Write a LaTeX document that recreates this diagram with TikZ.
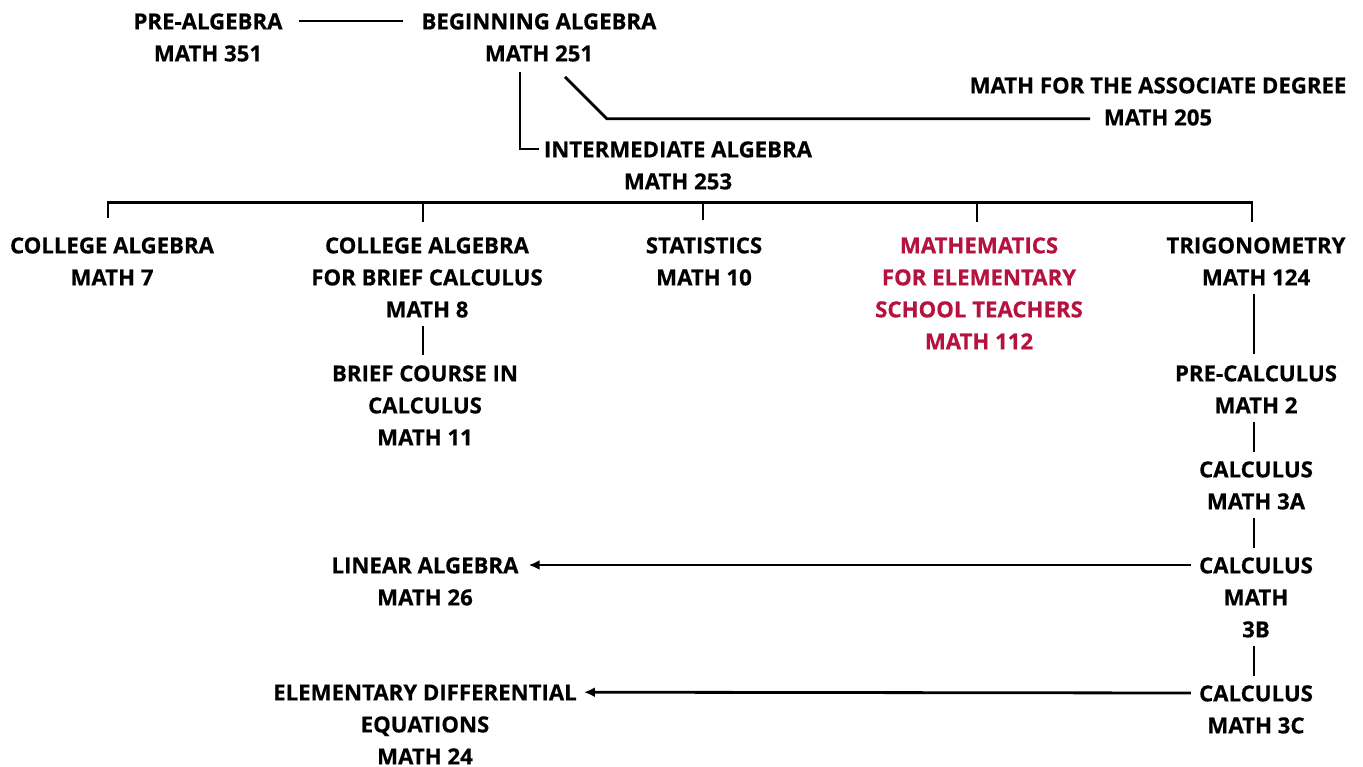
\documentclass[tikz,border=0pt]{standalone}
\usepackage{fontspec}
\newfontfamily\coursefont{Open Sans}[BoldFeatures={FakeBold=0.5}]
\usetikzlibrary{arrows.meta}
\definecolor{elemred}{RGB}{181,18,62}
\def\T{7.9}
\tikzset{
  course/.style={font=\coursefont\bfseries\fontsize{22.2}{32}\selectfont, align=center, inner sep=0pt, anchor=north, text=black},
  redcourse/.style={course, text=elemred},
  link/.style={draw=black, line width=2.8pt},
  arrowlink/.style={link, -{Latex[length=11pt,width=10pt]}}
}
\begin{document}
\begin{tikzpicture}[x=1pt,y=-1pt]
\useasboundingbox (0,0) rectangle (1363,767);
\node[course] (pre) at (208,13.1) {PRE-ALGEBRA\\MATH 351};
\node[course] (beg) at (539,13.1) {BEGINNING ALGEBRA\\MATH 251};
\node[course] (assoc) at (1158,77.1) {MATH FOR THE ASSOCIATE DEGREE\\MATH 205};
\node[course] (int) at (678,141.1) {INTERMEDIATE ALGEBRA\\MATH 253};
\node[course] (cola) at (112,237.1) {COLLEGE ALGEBRA\\MATH 7};
\node[course] (colb) at (427,237.1) {COLLEGE ALGEBRA\\FOR BRIEF CALCULUS\\MATH 8};
\node[course] (stat) at (704,237.1) {STATISTICS\\MATH 10};
\node[redcourse] (elem) at (979,237.1) {MATHEMATICS\\FOR ELEMENTARY\\SCHOOL TEACHERS\\MATH 112};
\node[course] (trig) at (1256,237.1) {TRIGONOMETRY\\MATH 124};
\node[course] (brief) at (425,365.1) {BRIEF COURSE IN\\CALCULUS\\MATH 11};
\node[course] (precalc) at (1256,365.1) {PRE-CALCULUS\\MATH 2};
\node[course] (calcA) at (1256,461.1) {CALCULUS\\MATH 3A};
\node[course] (calcB) at (1256,557.1) {CALCULUS\\MATH\\3B};
\node[course] (lin) at (425,557.1) {LINEAR ALGEBRA\\MATH 26};
\node[course] (calcC) at (1256,685.1) {CALCULUS\\MATH 3C};
\node[course] (diffeq) at (425,684.3) {ELEMENTARY DIFFERENTIAL\\EQUATIONS\\MATH 24};

% top connectors
\draw[link] ([shift={(16,\T)}]pre.north east) -- ([shift={(-18,\T)}]beg.north west);
\draw[link] ([shift={(-19,10)}]beg.south) |- ([shift={(-5,\T)}]int.north west);
\coordinate (a205) at ([shift={(-68,-7)}]assoc.south);
\draw[link] ([shift={(26,15)}]beg.south) -- ++(42,42) coordinate (kink) -- (kink -| a205);

% bus
\coordinate (bus) at ([shift={(0,13)}]int.south);
\coordinate (dcola) at ([shift={(-4,-19)}]cola.north);
\coordinate (dcolb) at ([shift={(-4,-15)}]colb.north);
\coordinate (dstat) at ([shift={(-1,-17)}]stat.north);
\coordinate (delem) at ([shift={(-2,-15)}]elem.north);
\coordinate (dtrig) at ([shift={(-4,-15)}]trig.north);
\draw[link] (dcola) |- (bus) -| (dtrig);
\draw[link] (dcolb) -- (dcolb |- bus);
\draw[link] (dstat) -- (dstat |- bus);
\draw[link] (delem) -- (delem |- bus);

% vertical chains
\draw[link] ([shift={(-4,8)}]colb.south) -- ([shift={(-2,-10)}]brief.north);
\draw[link] ([shift={(-2,8)}]trig.south) -- ([shift={(-2,-11)}]precalc.north);
\draw[link] ([shift={(-2,8)}]precalc.south) -- ([shift={(-2,-9.5)}]calcA.north);
\draw[link] ([shift={(-2,8)}]calcA.south) -- ([shift={(-2,-9.5)}]calcB.north);
\draw[link] ([shift={(-2,8)}]calcB.south) -- ([shift={(-2,-9.5)}]calcC.north);

% arrows
\draw[arrowlink] ([shift={(-8,\T)}]calcB.north west) -- ([shift={(10,\T)}]lin.north east);
\draw[arrowlink] ([shift={(-8,\T)}]calcC.north west) -- ([shift={(7,\T)}]diffeq.north east);
\end{tikzpicture}
\end{document}
